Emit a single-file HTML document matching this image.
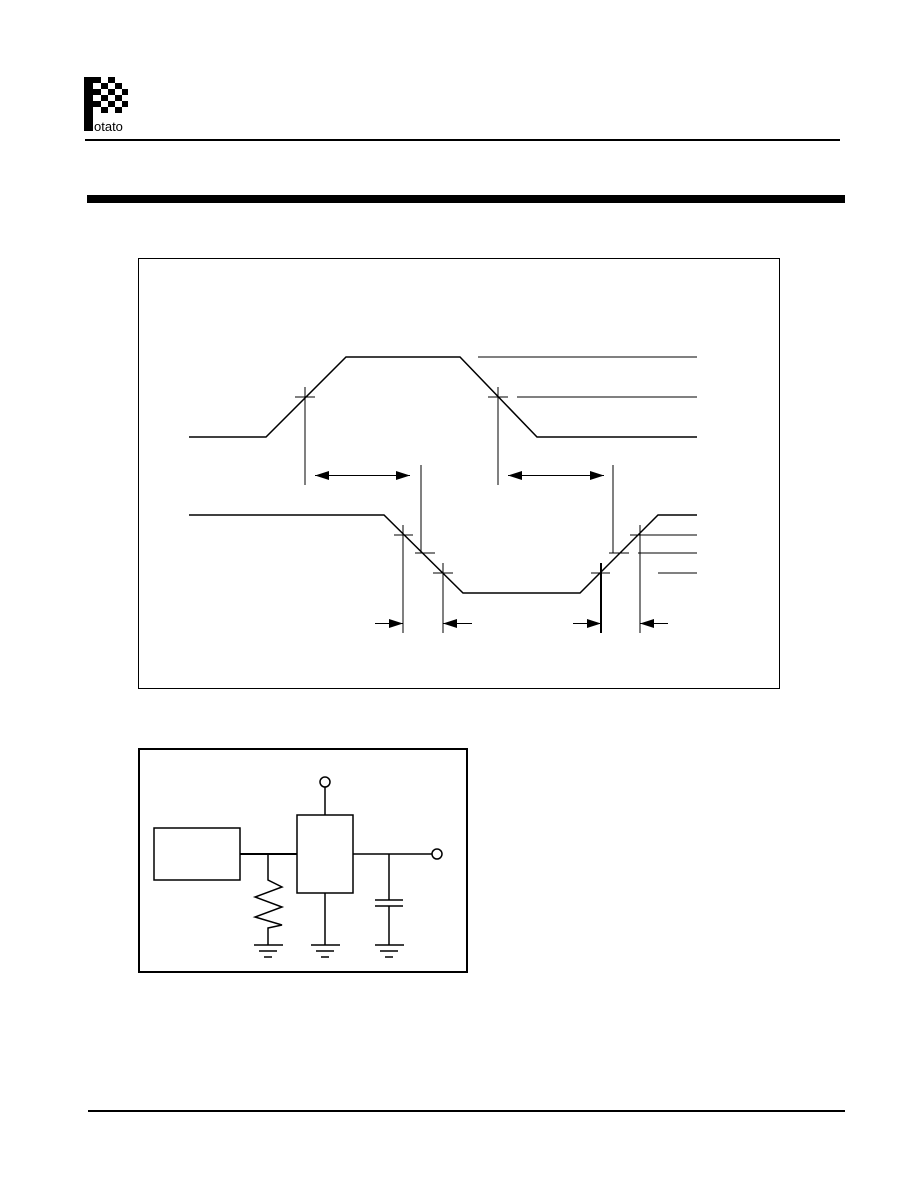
<!DOCTYPE html>
<html><head><style>body{margin:0;background:#fff}</style></head><body>
<svg width="918" height="1188" xmlns="http://www.w3.org/2000/svg" style="display:block">
<defs>
<marker id="ah" viewBox="0 0 14 10" refX="14" refY="5" markerWidth="14" markerHeight="10" orient="auto-start-reverse" markerUnits="userSpaceOnUse"><path d="M0,0.5L14,5L0,9.5z" fill="#000"/></marker>
</defs>
<!-- logo -->
<g fill="#000">
<rect x="84" y="77" width="9" height="54"/>
<rect x="93" y="77" width="8" height="6"/><rect x="101" y="83" width="7" height="6"/><rect x="108" y="77" width="7" height="6"/>
<rect x="93" y="89" width="8" height="6"/><rect x="108" y="89" width="7" height="6"/><rect x="115" y="83" width="7" height="6"/>
<rect x="101" y="95" width="7" height="6"/><rect x="115" y="95" width="7" height="6"/><rect x="122" y="89" width="6" height="6"/>
<rect x="93" y="101" width="8" height="6"/><rect x="108" y="101" width="7" height="6"/><rect x="122" y="101" width="6" height="6"/>
<rect x="101" y="107" width="7" height="6"/><rect x="115" y="107" width="7" height="6"/>
</g>
<text x="94" y="131" font-family="Liberation Sans, sans-serif" font-size="13">otato</text>
<rect x="85" y="139" width="755" height="2" fill="#000"/>
<rect x="87" y="195" width="758" height="8" fill="#000"/>
<rect x="88" y="1110" width="757" height="2" fill="#000"/>
<!-- timing box -->
<rect x="138.5" y="258.5" width="641" height="430" fill="none" stroke="#000"/>
<g fill="none" stroke="#000" stroke-width="1" shape-rendering="crispEdges">
<line x1="478" y1="357" x2="697" y2="357"/>
<line x1="517" y1="397" x2="697" y2="397"/>
<line x1="295" y1="397" x2="315" y2="397"/><line x1="305" y1="387" x2="305" y2="485"/>
<line x1="488" y1="397" x2="508" y2="397"/><line x1="498" y1="387" x2="498" y2="485"/>
<line x1="421" y1="465" x2="421" y2="553"/>
<line x1="613" y1="465" x2="613" y2="553"/>
<line x1="638" y1="535" x2="697" y2="535"/>
<line x1="638" y1="553" x2="697" y2="553"/>
<line x1="658" y1="573" x2="697" y2="573"/>
<line x1="394" y1="535" x2="413" y2="535"/><line x1="403" y1="525" x2="403" y2="633"/>
<line x1="415" y1="553" x2="435" y2="553"/>
<line x1="433" y1="573" x2="453" y2="573"/><line x1="443" y1="563" x2="443" y2="633"/>
<line x1="591" y1="573" x2="610" y2="573"/><line x1="601" y1="563" x2="601" y2="633" stroke-width="2"/>
<line x1="609" y1="553" x2="629" y2="553"/>
<line x1="630" y1="535" x2="650" y2="535"/><line x1="640" y1="525" x2="640" y2="633"/>
</g>
<g fill="none" stroke="#000" stroke-width="1.5">
<polyline points="189,437 266,437 346,357 460,357 537,437 697,437"/>
<polyline points="189,515 384,515 463,593 580,593 658,515 697,515"/>
</g>
<g stroke="#000" stroke-width="1">
<line x1="315" y1="475.5" x2="410" y2="475.5" marker-start="url(#ah)" marker-end="url(#ah)"/>
<line x1="508" y1="475.5" x2="604" y2="475.5" marker-start="url(#ah)" marker-end="url(#ah)"/>
<line x1="375" y1="623.5" x2="403" y2="623.5" marker-end="url(#ah)"/>
<line x1="472" y1="623.5" x2="443" y2="623.5" marker-end="url(#ah)"/>
<line x1="573" y1="623.5" x2="601" y2="623.5" marker-end="url(#ah)"/>
<line x1="668" y1="623.5" x2="640" y2="623.5" marker-end="url(#ah)"/>
</g>
<!-- circuit -->
<rect x="139" y="749" width="328" height="223" fill="none" stroke="#000" stroke-width="2"/>
<g fill="none" stroke="#000" stroke-width="1.5">
<rect x="154" y="828" width="86" height="52"/>
<rect x="297" y="815" width="56" height="78"/>
<line x1="240" y1="854" x2="297" y2="854" stroke-width="2"/>
<circle cx="325" cy="782" r="5"/><line x1="325" y1="787" x2="325" y2="815"/>
<line x1="353" y1="854" x2="432" y2="854"/><circle cx="437" cy="854" r="5"/>
<polyline points="268,854 268,880 282,887 255,897 282,907 255,917 282,925 268,928 268,945"/>
<line x1="325" y1="893" x2="325" y2="945"/>
<line x1="389" y1="854" x2="389" y2="900"/><line x1="375" y1="900" x2="403" y2="900"/><line x1="375" y1="906" x2="403" y2="906"/><line x1="389" y1="906" x2="389" y2="945"/>
<g>
<line x1="254" y1="945" x2="283" y2="945"/><line x1="259" y1="951" x2="277" y2="951"/><line x1="264" y1="957" x2="272" y2="957"/>
<line x1="311" y1="945" x2="340" y2="945"/><line x1="316" y1="951" x2="334" y2="951"/><line x1="321" y1="957" x2="329" y2="957"/>
<line x1="375" y1="945" x2="404" y2="945"/><line x1="380" y1="951" x2="398" y2="951"/><line x1="385" y1="957" x2="393" y2="957"/>
</g>
</g>
</svg>
</body></html>
